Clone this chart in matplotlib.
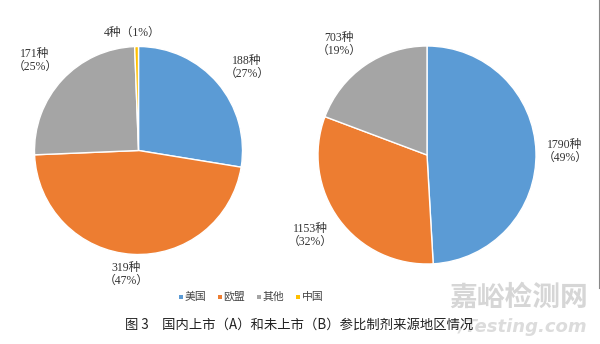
import matplotlib
matplotlib.use("Agg")
import matplotlib.pyplot as plt
from matplotlib.patches import Rectangle

# ---- data ----
regions = ["美国", "欧盟", "其他", "中国"]
counts_A = [188, 319, 171, 4]
pct_A = ["27%", "47%", "25%", "1%"]
counts_B = [1790, 1153, 703, 0]
pct_B = ["49%", "32%", "19%", ""]
colors = ["#5B9BD5", "#ED7D31", "#A5A5A5", "#FFC000"]
caption = "图 3　国内上市（A）和未上市（B）参比制剂来源地区情况"

W, H = 600, 344
fig = plt.figure(figsize=(6.0, 3.44), dpi=100)
ax = fig.add_axes([0, 0, 1, 1])


def Y(y):
    return H - y


serif = ["Liberation Serif", "Noto Sans CJK SC"]
sans = ["Noto Sans CJK SC", "DejaVu Sans"]

# left pie (A)
ax.pie(counts_A, colors=colors, startangle=90, counterclock=False,
       center=(138.5, Y(150.5)), radius=104, frame=True,
       wedgeprops=dict(edgecolor="white", linewidth=1.0))
# right pie (B) - only non-zero
vals_B = [v for v in counts_B if v > 0]
cols_B = [c for v, c in zip(counts_B, colors) if v > 0]
ax.pie(vals_B, colors=cols_B, startangle=90, counterclock=False,
       center=(427, Y(155)), radius=109, frame=True,
       wedgeprops=dict(edgecolor="white", linewidth=1.0))
ax.set_xlim(0, W)
ax.set_ylim(0, H)
ax.set_aspect("equal")
ax.axis("off")

fs = 8.5
tcol = "#333333"


def label2(x, y, c, p):
    ax.text(x, Y(y), f"{c}种", ha="center", va="center", fontsize=fs,
            family=serif, color=tcol)
    ax.text(x, Y(y + 12.5), f"（{p}）", ha="center", va="center", fontsize=fs,
            family=serif, color=tcol)


# labels for A (first-line positions)
pos_A = [(247, 61), (126, 268), (35, 54), None]
for c, p, pos in zip(counts_A, pct_A, pos_A):
    if pos is not None:
        label2(pos[0], pos[1], c, p)
ax.text(132, Y(33), f"{counts_A[3]}种（{pct_A[3]}）", ha="center", va="center",
        fontsize=fs, family=serif, color=tcol)

# labels for B
pos_B = [(565, 145), (310, 229), (339, 38)]
for c, p, pos in zip(counts_B, pct_B, pos_B):
    label2(pos[0], pos[1], c, p)

# legend
leg_x = [181, 220, 259, 298]
for name, col, x in zip(regions, colors, leg_x):
    ax.add_patch(Rectangle((x - 2, Y(297) - 2), 4, 4, color=col, lw=0))
    ax.text(x + 3.5, Y(297), name, ha="left", va="center", fontsize=7.8,
            family=serif, color="#444444")

# watermark
ax.text(519, Y(298), "嘉峪检测网", ha="center", va="center", fontsize=20,
        family=sans, color="#d6d6d6", fontweight="bold")
ax.text(523, Y(327), "/Testing.com", ha="center", va="center", fontsize=13,
        family=["DejaVu Sans"], color="#dcdcdc", fontweight="bold", style="italic")

# caption
ax.text(299, Y(325), caption, ha="center", va="center", fontsize=9.6,
        family=sans, color="#222222")

# right border line
ax.plot([598.5, 598.5], [Y(0), Y(288)], color="#888888", lw=0.8)

fig.savefig("out.png", dpi=100)
